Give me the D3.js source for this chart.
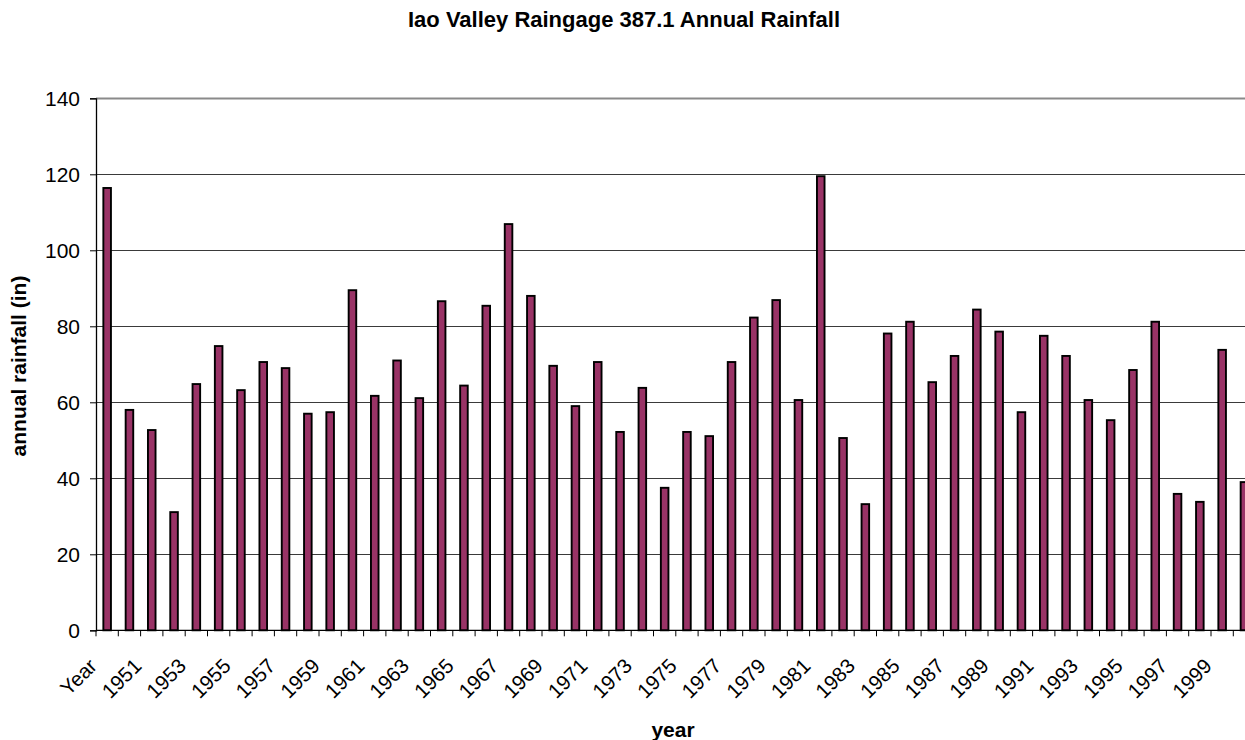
<!DOCTYPE html>
<html>
<head>
<meta charset="utf-8">
<script src="https://cdn.jsdelivr.net/npm/d3@7"></script>
<style>
  html, body { margin: 0; padding: 0; background: #fff; overflow: hidden; }
  svg { display: block; font-family: "Liberation Sans", Arial, sans-serif; }
</style>
</head>
<body>
<svg id="chart" width="1245" height="740"></svg>
<script>
const categories = ["Year","1950","1951","1952","1953","1954","1955","1956","1957","1958","1959",
  "1960","1961","1962","1963","1964","1965","1966","1967","1968","1969",
  "1970","1971","1972","1973","1974","1975","1976","1977","1978","1979",
  "1980","1981","1982","1983","1984","1985","1986","1987","1988","1989",
  "1990","1991","1992","1993","1994","1995","1996","1997","1998","1999","2000"];
const rainfall = [116.4, 58.0, 52.7, 31.1, 64.8, 74.8, 63.2, 70.6, 69.0, 57.0, 57.4,
  89.5, 61.7, 71.0, 61.1, 86.6, 64.4, 85.4, 106.9, 88.0, 69.6,
  59.0, 70.6, 52.2, 63.8, 37.5, 52.2, 51.1, 70.6, 82.3, 86.9,
  60.6, 119.5, 50.6, 33.2, 78.1, 81.2, 65.3, 72.2, 84.4, 78.6,
  57.4, 77.5, 72.2, 60.6, 55.3, 68.5, 81.2, 35.9, 33.8, 73.8, 39.0];
const yTicks = [0, 20, 40, 60, 80, 100, 120, 140];
const xTickLabels = ["Year","1951","1953","1955","1957","1959","1961","1963","1965","1967","1969",
  "1971","1973","1975","1977","1979","1981","1983","1985","1987","1989",
  "1991","1993","1995","1997","1999"];

(function () {
const svg = d3.select("#chart");
const pLeft = 96, pRight = 1255.6, pTop = 98.3, pBottom = 630.3;

const x = d3.scaleBand().domain(categories).range([pLeft, pRight]).padding(0);
const y = d3.scaleLinear().domain([0, 140]).range([pBottom, pTop]);

// title
svg.append("text")
  .attr("x", 624).attr("y", 27)
  .attr("text-anchor", "middle")
  .attr("font-size", "22px").attr("font-weight", "bold")
  .text("Iao Valley Raingage 387.1 Annual Rainfall");

// gridlines
svg.append("g").selectAll("line")
  .data(yTicks.filter(d => d > 0))
  .join("line")
  .attr("x1", pLeft).attr("x2", pRight)
  .attr("y1", d => Math.round(y(d)) + 0.5).attr("y2", d => Math.round(y(d)) + 0.5)
  .attr("stroke", d => d === 140 ? "#8a8a8a" : "#3a3a3a")
  .attr("stroke-width", d => d === 140 ? 2 : 1);

// bars
const bw = x.bandwidth() * 0.34;
svg.append("g").selectAll("rect")
  .data(rainfall)
  .join("rect")
  .attr("x", (d, i) => x(categories[i]) + x.bandwidth() / 2 - bw / 2)
  .attr("y", d => y(d))
  .attr("width", bw)
  .attr("height", d => y(0) - y(d))
  .attr("fill", "#993366")
  .attr("stroke", "#000")
  .attr("stroke-width", 1.9);

// y axis
const yAxis = d3.axisLeft(y).tickValues(yTicks).tickSize(6).tickPadding(10);
const gy = svg.append("g").attr("transform", `translate(${pLeft},0)`).call(yAxis);
gy.select(".domain").attr("stroke", "#000").attr("stroke-width", 1.3);
gy.selectAll(".tick line").attr("stroke", "#000");
gy.selectAll(".tick text").attr("font-size", "21px").attr("fill", "#000")
  .attr("font-family", "'Liberation Sans', Arial, sans-serif");

// x axis line
svg.append("line")
  .attr("x1", pLeft).attr("x2", pRight)
  .attr("y1", pBottom).attr("y2", pBottom)
  .attr("stroke", "#000").attr("stroke-width", 1.3);

// x boundary ticks
svg.append("g").selectAll("line")
  .data(categories.map(c => x(c)).concat([pRight]))
  .join("line")
  .attr("x1", d => d).attr("x2", d => d)
  .attr("y1", pBottom).attr("y2", pBottom + 6)
  .attr("stroke", "#000").attr("stroke-width", 1);

// x labels
const xAxis = d3.axisBottom(x).tickValues(xTickLabels).tickSize(0).tickPadding(0);
const gx = svg.append("g").attr("transform", `translate(0,${pBottom})`).call(xAxis);
gx.select(".domain").remove();
gx.selectAll(".tick text")
  .attr("font-size", "20.5px").attr("fill", "#000")
  .attr("font-family", "'Liberation Sans', Arial, sans-serif")
  .attr("text-anchor", "end")
  .attr("dy", null).attr("y", 0)
  .attr("transform", "translate(-9,37) rotate(-45)");

// y axis title
svg.append("text")
  .attr("transform", "translate(26,366) rotate(-90)")
  .attr("text-anchor", "middle")
  .attr("font-size", "21px").attr("font-weight", "bold")
  .text("annual rainfall (in)");

// x axis title
svg.append("text")
  .attr("x", 673).attr("y", 737)
  .attr("text-anchor", "middle")
  .attr("font-size", "21px").attr("font-weight", "bold")
  .text("year");
})();
</script>
</body>
</html>
